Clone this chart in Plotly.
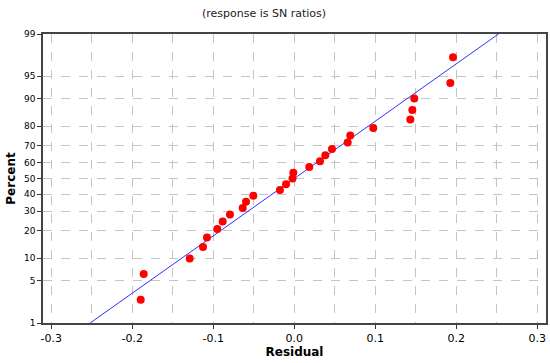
import plotly.graph_objects as go
from statistics import NormalDist

# Residuals (sorted)
residuals = [-0.1896, -0.1859, -0.1291, -0.1127, -0.1078, -0.0951, -0.0884, -0.0794,
             -0.0637, -0.0596, -0.0506, -0.0177, -0.0102, -0.0022, -0.0012, 0.0185,
             0.0317, 0.0383, 0.0465, 0.0659, 0.0691, 0.0975, 0.1432, 0.1457, 0.1481,
             0.1926, 0.1959]
# Plotted percent (median-rank positions)
percents = [2.555, 6.204, 9.854, 13.504, 17.153, 20.803, 24.453, 28.102, 31.752,
            35.401, 39.051, 42.701, 46.350, 50.000, 53.650, 57.299, 60.949, 64.599,
            68.248, 71.898, 75.547, 79.197, 82.847, 86.496, 90.146, 93.796, 97.445]
# Fitted normal line end points
line_residuals = [-0.252, 0.252]
line_percents = [1, 99]

y_ticks = [1, 5, 10, 20, 30, 40, 50, 60, 70, 80, 90, 95, 99]
x_ticks = [-0.3, -0.2, -0.1, 0.0, 0.1, 0.2, 0.3]
x_tick_text = ["-0.3", "-0.2", "-0.1", "0.0", "0.1", "0.2", "0.3"]

nd = NormalDist()
z = lambda p: nd.inv_cdf(p / 100.0)

fig = go.Figure()
fig.add_trace(go.Scatter(x=line_residuals, y=[z(p) for p in line_percents], mode="lines",
                         line=dict(color="#3030ff", width=1), hoverinfo="skip"))
fig.add_trace(go.Scatter(x=residuals, y=[z(p) for p in percents], mode="markers",
                         marker=dict(color="#ff0000", size=8, line=dict(width=0)),
                         customdata=percents,
                         hovertemplate="Residual %{x}<br>Percent %{customdata}<extra></extra>"))

grid = "#c4c4c4"
fig.update_layout(
    width=550, height=363, showlegend=False,
    paper_bgcolor="white", plot_bgcolor="white",
    margin=dict(l=43, r=4, t=34, b=40, autoexpand=False),
    font=dict(family="DejaVu Sans", color="#000000"),
    annotations=[dict(text="(response is SN ratios)", xref="paper", yref="paper",
                      x=0.439, y=1, yshift=21, showarrow=False, xanchor="center",
                      yanchor="middle", font=dict(size=11, family="DejaVu Sans", color="#222"))],
)
fig.update_xaxes(
    range=[-0.3102, 0.3107], tickvals=x_ticks, ticktext=x_tick_text,
    tickfont=dict(size=11), ticks="outside", ticklen=4, tickcolor="#333",
    showgrid=True, gridcolor=grid, griddash="dash", gridwidth=1,
    minor=dict(dtick=0.05, tick0=0, showgrid=True, gridcolor=grid, griddash="dash", gridwidth=1),
    showline=True, mirror=True, linecolor="#444", linewidth=1.5,
    zeroline=False,
    title=dict(text="<b>Residual</b>", font=dict(size=12), standoff=3),
)
fig.update_yaxes(
    range=[z(1), z(99)], tickvals=[z(p) for p in y_ticks], ticktext=[str(p) for p in y_ticks],
    tickfont=dict(size=9), ticks="outside", ticklen=4, tickcolor="#333",
    showgrid=True, gridcolor=grid, griddash="dash", gridwidth=1,
    showline=True, mirror=True, linecolor="#444", linewidth=1.5,
    zeroline=False,
    title=dict(text="<b>Percent</b>", font=dict(size=12), standoff=6),
)

fig.write_html("out.html", config={"displayModeBar": False},
               post_script="document.body.style.margin='0';document.body.style.overflow='hidden';")
